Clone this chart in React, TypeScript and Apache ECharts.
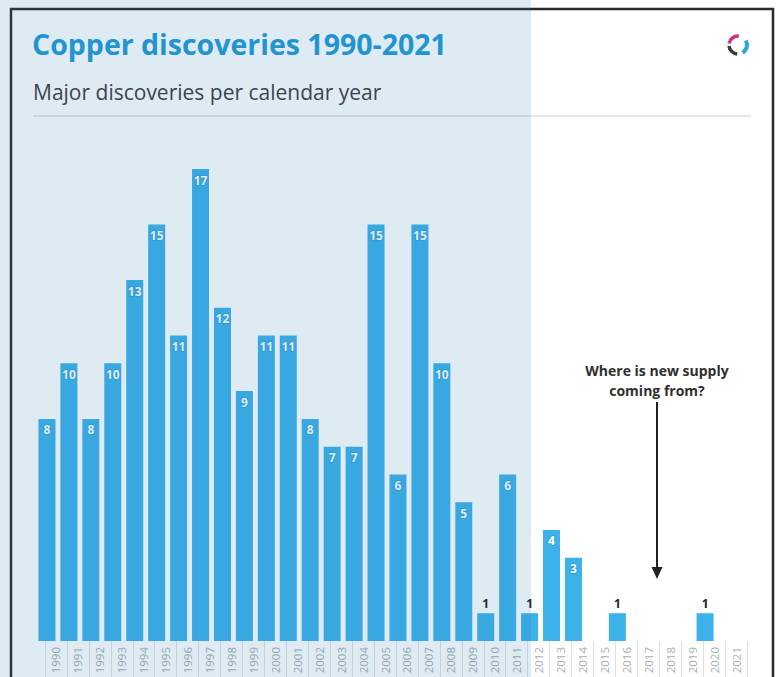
import React, { useEffect, useRef } from "react";
import * as echarts from "echarts";

const years = [
  "1990", "1991", "1992", "1993", "1994", "1995", "1996", "1997",
  "1998", "1999", "2000", "2001", "2002", "2003", "2004", "2005",
  "2006", "2007", "2008", "2009", "2010", "2011", "2012", "2013",
  "2014", "2015", "2016", "2017", "2018", "2019", "2020", "2021",
];
const discoveries = [
  8, 10, 8, 10, 13, 15, 11, 17,
  12, 9, 11, 11, 8, 7, 7, 15,
  6, 15, 10, 5, 1, 6, 1, 4,
  3, 0, 1, 0, 0, 0, 1, 0,
];
const titleText = "Copper discoveries 1990-2021";
const subtitleText = "Major discoveries per calendar year";
const noteLines = ["Where is new supply", "coming from?"];

const FONT = "'Open Sans', Lato, sans-serif";

export default function App() {
  const ref = useRef<HTMLDivElement>(null);
  useEffect(() => {
    if (!ref.current) return;
    const chart = echarts.init(ref.current, undefined, { renderer: "svg" });
    const data = discoveries.map((v) => {
      if (v === 0) return { value: v, label: { show: false } };
      if (v === 1)
        return {
          value: v,
          label: { show: true, position: "top", distance: 4, color: "#222", textBorderWidth: 0 },
        };
      return v;
    });
    const deg = (a: number) => (a * Math.PI) / 180;
    const option: any = {
      animation: false,
      backgroundColor: "#ffffff",
      grid: [
        { left: 36, top: 169, width: 702, height: 472 },
        { left: 45, top: 169, width: 702, height: 472 },
      ],
      xAxis: [
        {
          type: "category",
          gridIndex: 0,
          data: years,
          axisLine: { show: false },
          axisTick: { show: false },
          axisLabel: { show: false },
        },
        {
          type: "category",
          gridIndex: 1,
          data: years,
          axisLine: { show: false },
          axisTick: { show: true, length: 36, lineStyle: { color: "#dde1e5", width: 1 } },
          axisLabel: {
            rotate: 90,
            color: "#a9adb1",
            fontSize: 11.5,
            margin: 6,
            fontFamily: FONT,
          },
        },
      ],
      yAxis: [
        { type: "value", gridIndex: 0, min: 0, max: 17, show: false },
        { type: "value", gridIndex: 1, min: 0, max: 17, show: false },
      ],
      series: [
        {
          type: "bar",
          xAxisIndex: 0,
          yAxisIndex: 0,
          barWidth: 17,
          itemStyle: { color: "#3cb1ea" },
          label: {
            show: true,
            position: "insideTop",
            distance: 5,
            color: "#ffffff",
            fontWeight: "bold",
            fontSize: 12,
            fontFamily: FONT,
            textBorderColor: "#2f9fd6",
            textBorderWidth: 1.5,
          },
          data,
        },
      ],
      graphic: [
        {
          type: "rect",
          z: -10,
          silent: true,
          shape: { x: 11, y: 9, width: 762, height: 720 },
          style: { fill: "#ffffff", stroke: "#2b2b2b", lineWidth: 2.5 },
        },
        {
          type: "text",
          x: 32,
          y: 44,
          z: 10,
          style: {
            text: titleText,
            font: `bold 28.5px ${FONT}`,
            fill: "#2299d6",
            verticalAlign: "middle",
          },
        },
        {
          type: "text",
          x: 33,
          y: 92,
          z: 10,
          style: {
            text: subtitleText,
            font: `21px ${FONT}`,
            fill: "#3c3c3c",
            verticalAlign: "middle",
          },
        },
        {
          type: "line",
          z: 10,
          shape: { x1: 33, y1: 116, x2: 751, y2: 116 },
          style: { stroke: "#dcdfe2", lineWidth: 1.5 },
        },
        {
          type: "arc",
          z: 10,
          shape: { cx: 738, cy: 45, r: 9, startAngle: deg(-170), endAngle: deg(-85) },
          style: { stroke: "#d0317f", lineWidth: 3.5, fill: "none" },
        },
        {
          type: "arc",
          z: 10,
          shape: { cx: 738, cy: 45, r: 9, startAngle: deg(-30), endAngle: deg(60) },
          style: { stroke: "#2fa6df", lineWidth: 4, fill: "none" },
        },
        {
          type: "arc",
          z: 10,
          shape: { cx: 738, cy: 45, r: 9, startAngle: deg(95), endAngle: deg(175) },
          style: { stroke: "#3a3a3a", lineWidth: 3.5, fill: "none" },
        },
        {
          type: "text",
          x: 657,
          y: 370,
          z: 10,
          style: {
            text: noteLines[0],
            font: `bold 14px ${FONT}`,
            fill: "#2f2f2f",
            align: "center",
            verticalAlign: "middle",
          },
        },
        {
          type: "text",
          x: 657,
          y: 390,
          z: 10,
          style: {
            text: noteLines[1],
            font: `bold 14px ${FONT}`,
            fill: "#2f2f2f",
            align: "center",
            verticalAlign: "middle",
          },
        },
        {
          type: "line",
          z: 10,
          shape: { x1: 657, y1: 402, x2: 657, y2: 570 },
          style: { stroke: "#222", lineWidth: 2 },
        },
        {
          type: "polygon",
          z: 10,
          shape: { points: [[651.5, 567], [662.5, 567], [657, 579]] },
          style: { fill: "#222" },
        },
        {
          type: "rect",
          z: 100,
          silent: true,
          shape: { x: 0, y: 0, width: 531, height: 677 },
          style: { fill: "rgba(42,122,175,0.15)" },
        },
      ],
    };
    chart.setOption(option);
    return () => chart.dispose();
  }, []);
  return (
    <div
      ref={ref}
      style={{ position: "fixed", left: 0, top: 0, width: 779, height: 677 }}
    />
  );
}
